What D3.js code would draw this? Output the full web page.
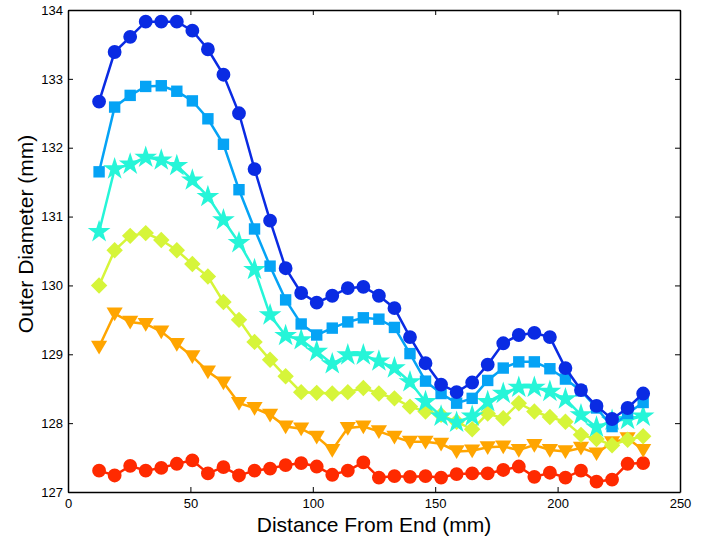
<!DOCTYPE html>
<html>
<head>
<meta charset="utf-8">
<script src="https://cdn.jsdelivr.net/npm/d3@7"></script>
<style>
 body { margin: 0; background: #fff; }
 text { font-family: "Liberation Sans", Arial, sans-serif; }
</style>
</head>
<body>
<div id="chart-area"></div>
<script>
// distance from end (mm)
var distance = [12.7, 19.05, 25.4, 31.75, 38.1, 44.45, 50.8, 57.15, 63.5, 69.85, 76.2, 82.55,
  88.9, 95.25, 101.6, 107.95, 114.3, 120.65, 127, 133.35, 139.7, 146.05, 152.4, 158.75,
  165.1, 171.45, 177.8, 184.15, 190.5, 196.85, 203.2, 209.55, 215.9, 222.25, 228.6, 234.95];

// outer diameter (mm), one array per curve
var blueCircles = [132.67, 133.39, 133.61, 133.83, 133.83, 133.83, 133.70, 133.43, 133.06, 132.50, 131.69, 130.94,
  130.25, 129.89, 129.75, 129.85, 129.96, 129.98, 129.85, 129.67, 129.25, 128.87, 128.56, 128.45,
  128.59, 128.85, 129.16, 129.28, 129.31, 129.25, 128.80, 128.48, 128.25, 128.06, 128.22, 128.43];
var lightBlueSquares = [131.65, 132.59, 132.76, 132.89, 132.90, 132.82, 132.68, 132.42, 132.05, 131.39, 130.82, 130.28,
  129.79, 129.44, 129.28, 129.38, 129.47, 129.53, 129.51, 129.39, 129.01, 128.61, 128.43, 128.29,
  128.36, 128.62, 128.80, 128.89, 128.89, 128.79, 128.64, 128.47, 128.22, 127.95, 128.14, 128.30];
var cyanStars = [130.78, 131.69, 131.76, 131.86, 131.82, 131.74, 131.53, 131.29, 130.95, 130.62, 130.23, 129.57,
  129.27, 129.21, 129.04, 128.86, 128.99, 128.99, 128.90, 128.80, 128.60, 128.31, 128.10, 128.01,
  128.10, 128.31, 128.43, 128.52, 128.52, 128.46, 128.35, 128.12, 127.94, 128.04, 128.05, 128.10];
var greenDiamonds = [130.00, 130.51, 130.72, 130.76, 130.66, 130.51, 130.31, 130.13, 129.76, 129.50, 129.18, 128.92,
  128.68, 128.45, 128.44, 128.43, 128.45, 128.51, 128.43, 128.36, 128.24, 128.17, 128.12, 128.02,
  127.91, 128.14, 128.07, 128.29, 128.17, 128.09, 128.02, 127.83, 127.77, 127.68, 127.76, 127.81];
var orangeTriangles = [129.11, 129.59, 129.47, 129.44, 129.33, 129.15, 128.97, 128.75, 128.59, 128.29, 128.22, 128.12,
  127.95, 127.92, 127.80, 127.61, 127.93, 127.95, 127.88, 127.80, 127.73, 127.73, 127.70, 127.59,
  127.60, 127.65, 127.66, 127.61, 127.68, 127.61, 127.59, 127.64, 127.56, 127.72, 127.78, 127.61];
var redCircles = [127.31, 127.24, 127.38, 127.31, 127.35, 127.41, 127.46, 127.27, 127.36, 127.24, 127.31, 127.34,
  127.39, 127.42, 127.37, 127.25, 127.31, 127.43, 127.21, 127.23, 127.22, 127.23, 127.21, 127.26,
  127.27, 127.27, 127.32, 127.37, 127.22, 127.28, 127.21, 127.31, 127.15, 127.18, 127.41, 127.42];

var xTicks = [0, 50, 100, 150, 200, 250];
var yTicks = [127, 128, 129, 130, 131, 132, 133, 134];

// custom MATLAB-like markers
var diamondShape = {
  draw: function(ctx, size) {
    var r = Math.sqrt(size) / 2 * Math.SQRT2;
    ctx.moveTo(0, -r); ctx.lineTo(r, 0); ctx.lineTo(0, r); ctx.lineTo(-r, 0); ctx.closePath();
  }
};
var triangleDown = {
  draw: function(ctx, size) {
    var w = Math.sqrt(size) * 0.62;
    ctx.moveTo(-w, -w * 0.75); ctx.lineTo(w, -w * 0.75); ctx.lineTo(0, w * 0.95); ctx.closePath();
  }
};

// bottom-most curve first so blue ends on top
var series = [
  {values: redCircles, color: "#ff2a00", shape: d3.symbolCircle, size: 150},
  {values: orangeTriangles, color: "#ffa500", shape: triangleDown, size: 170},
  {values: greenDiamonds, color: "#d6f53a", shape: diamondShape, size: 135},
  {values: cyanStars, color: "#26f5d8", shape: d3.symbolStar, size: 160},
  {values: lightBlueSquares, color: "#05a3f5", shape: d3.symbolSquare, size: 130},
  {values: blueCircles, color: "#0a2be3", shape: d3.symbolCircle, size: 150}
];

var margin = {top: 10, right: 26, bottom: 45, left: 68},
  width = 706 - margin.left - margin.right,
  height = 537 - margin.top - margin.bottom;

var svg = d3.select("#chart-area")
  .append("svg")
  .attr("width", 706)
  .attr("height", 537)
  .append("g")
  .attr("transform", `translate(${margin.left}, ${margin.top})`);

var x = d3.scaleLinear().domain([0, 250]).range([0, width]);
var y = d3.scaleLinear().domain([127, 134]).range([height, 0]);

var line = d3.line()
  .x((d, i) => x(distance[i]))
  .y(d => y(d));

series.forEach(s => {
  svg.append("path")
    .datum(s.values)
    .attr("d", line)
    .attr("fill", "none")
    .attr("stroke", s.color)
    .attr("stroke-width", 2.5);

  svg.append("g")
    .selectAll("path")
    .data(s.values)
    .enter()
    .append("path")
    .attr("transform", (d, i) => `translate(${x(distance[i])}, ${y(d)})`)
    .attr("d", d3.symbol().type(s.shape).size(s.size))
    .attr("fill", s.color);
});

// axes with inward ticks, boxed like MATLAB
svg.append("g")
  .attr("transform", `translate(0, ${height})`)
  .call(d3.axisBottom(x).tickValues(xTicks).tickSizeInner(-5).tickSizeOuter(0).tickPadding(7));
svg.append("g")
  .call(d3.axisLeft(y).tickValues(yTicks).tickSizeInner(-5).tickSizeOuter(0).tickPadding(5).tickFormat(d3.format("d")));
svg.append("g")
  .call(d3.axisTop(x).tickValues(xTicks).tickSizeInner(-5).tickSizeOuter(0).tickFormat(""));
svg.append("g")
  .attr("transform", `translate(${width}, 0)`)
  .call(d3.axisRight(y).tickValues(yTicks).tickSizeInner(-5).tickSizeOuter(0).tickFormat(""));

svg.selectAll(".domain").attr("stroke", "#000").attr("stroke-width", 1.5);
svg.selectAll(".tick line").attr("stroke", "#000");
svg.selectAll(".tick text").attr("font-size", "13px").attr("fill", "#000")
  .attr("font-family", "Liberation Sans, Arial, sans-serif");

svg.append("text")
  .attr("x", width / 2)
  .attr("y", height + 40)
  .attr("text-anchor", "middle")
  .attr("font-size", "21px")
  .text("Distance From End (mm)");

svg.append("text")
  .attr("transform", "rotate(-90)")
  .attr("x", -(height / 2) + 17)
  .attr("y", -35)
  .attr("text-anchor", "middle")
  .attr("font-size", "21px")
  .text("Outer Diameter (mm)");
</script>
</body>
</html>
